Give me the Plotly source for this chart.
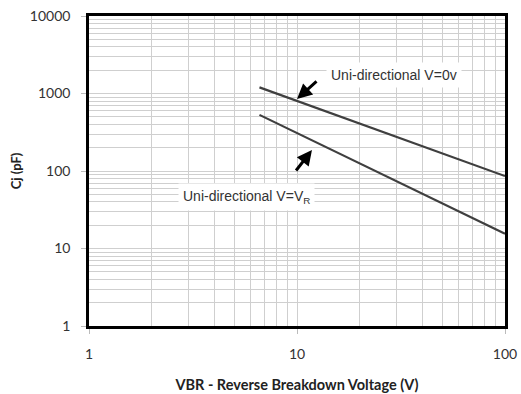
import math
import plotly.graph_objects as go

# Data
v0_x = [6.6, 100]
v0_y = [1200, 86]
vr_x = [6.6, 100]
vr_y = [530, 15.5]

x_ticks = [1, 10, 100]
x_ticktext = ["1", "10", "100"]
y_ticks = [1, 10, 100, 1000, 10000]
y_ticktext = ["1", "10", "100", "1000", "10000"]

label_v0 = "Uni-directional V=0v"
label_vr = "Uni-directional V=V<sub>R</sub>"
x_title = "VBR - Reverse Breakdown Voltage (V)"
y_title = "Cj (pF)"

x_minor = [m * 10 ** e for e in range(0, 2) for m in range(2, 10)]
y_minor = [m * 10 ** e for e in range(0, 4) for m in range(2, 10)]

line_color = "#3f3f3f"
grid_color = "#cfcfcf"

fig = go.Figure()
fig.add_trace(go.Scatter(x=v0_x, y=v0_y, mode="lines",
                         line=dict(color=line_color, width=2.2), showlegend=False))
fig.add_trace(go.Scatter(x=vr_x, y=vr_y, mode="lines",
                         line=dict(color=line_color, width=2.2), showlegend=False))

axis_common = dict(
    type="log", automargin=False,
    showgrid=True, gridcolor=grid_color, gridwidth=1,
    showline=True, mirror=True, linecolor="black", linewidth=2.5,
    ticks="outside", ticklen=5, tickcolor="#bbbbbb",
    tickfont=dict(family="Lato", size=14, color="#333333"),
    zeroline=False,
)

fig.update_xaxes(**axis_common, range=[0, 2], tickvals=x_ticks, ticktext=x_ticktext,
                 minor=dict(tickvals=x_minor, showgrid=True, gridcolor=grid_color, ticks=""),
                 ticklabelstandoff=8,
                 title=dict(text="<b>" + x_title + "</b>", font=dict(family="Lato", size=14.5, color="#222222"), standoff=20))
fig.update_yaxes(**axis_common, range=[0, 4], tickvals=y_ticks, ticktext=y_ticktext,
                 minor=dict(tickvals=y_minor, showgrid=True, gridcolor=grid_color, ticks=""),
                 ticklabelstandoff=8,
                 title=dict(text="<b>" + y_title + "</b>", font=dict(family="Lato", size=13, color="#222222"), standoff=6))

annotations = [
    dict(x=1.466, y=3.239, xref="x", yref="y", text=label_v0, showarrow=False,
         font=dict(family="Liberation Sans", size=14, color="#333333"),
         bgcolor="white", borderpad=4),
    dict(x=0.755, y=1.665, xref="x", yref="y", text=label_vr, showarrow=False,
         font=dict(family="Liberation Sans", size=14, color="#333333"),
         bgcolor="white", borderpad=4),
    dict(x=1.0, y=2.929, ax=1.101, ay=3.174, xref="x", yref="y", axref="x", ayref="y",
         text="", showarrow=True, arrowhead=2, arrowsize=1, arrowwidth=3, arrowcolor="black"),
    dict(x=1.072, y=2.271, ax=0.990, ay=1.987, xref="x", yref="y", axref="x", ayref="y",
         text="", showarrow=True, arrowhead=2, arrowsize=1, arrowwidth=3, arrowcolor="black"),
]

fig.update_layout(
    width=521, height=394,
    margin=dict(l=89, r=16, t=16, b=68),
    paper_bgcolor="white", plot_bgcolor="white",
    annotations=annotations,
)

fig.write_html("out.html")
